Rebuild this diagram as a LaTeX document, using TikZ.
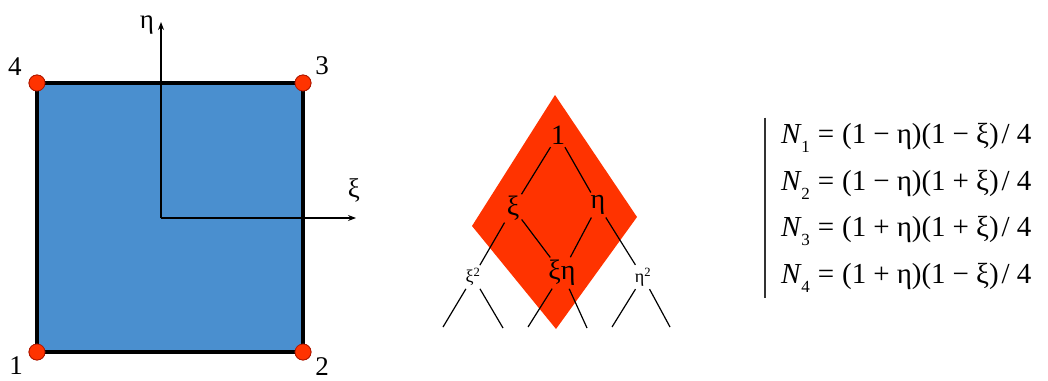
\documentclass[tikz,border=0pt]{standalone}
\usepackage{fontspec}
\setmainfont{Liberation Serif}
\usetikzlibrary{arrows.meta,positioning}
\definecolor{elemblue}{HTML}{4A8FCF}
\definecolor{nodered}{HTML}{FF3300}
\definecolor{nodeedge}{HTML}{B01800}
\definecolor{bargray}{HTML}{333333}
\newcommand{\shapeN}[1]{\textit{N}\kern-0.5pt\raisebox{-0.32em}{\fontsize{17}{17}\selectfont #1}}
\newcommand{\gap}[1]{\hspace{#1pt}}

\begin{document}
\begin{tikzpicture}[x=1pt, y=-1pt,
        corner/.style = {circle, fill=nodered, draw=nodeedge, line width=0.8pt,
                         inner sep=0pt, minimum size=16pt},
        num/.style    = {font=\fontsize{27}{27}\selectfont, inner sep=0pt},
        axis/.style   = {-{Stealth[length=8pt,width=6pt]}, line width=1.1pt},
        term/.style   = {font=\fontsize{28}{28}\selectfont, inner sep=1pt},
        small/.style  = {font=\fontsize{18}{18}\selectfont, inner sep=1pt},
        edge/.style   = {line width=1.2pt, shorten <=2pt, shorten >=2pt},
        eqn/.style    = {font=\fontsize{29}{29}\selectfont, anchor=base west, inner sep=0pt}
    ]
        \useasboundingbox (0,0) rectangle (1048,380);

        % ---- Element ----
        \node[corner] (c1) at (37,352) {};
        \node[corner] (c2) at (303,352) {};
        \node[corner] (c3) at (303,83) {};
        \node[corner] (c4) at (37,83) {};
        \fill[elemblue] (c1.center) -- (c2.center) -- (c3.center) -- (c4.center) -- cycle;
        \draw[line width=3.5pt, line join=round]
            (c1.center) -- (c2.center) -- (c3.center) -- (c4.center) -- cycle;
        \foreach \k in {1,...,4} {\node[corner] at (c\k) {};}
        \node[num] (n1) at (16,366) {1};
        \node[num] (n2) at (322,367) {2};
        \node[num] (n3) at (322,66) {3};
        \node[num] (n4) at (15,67) {4};

        \coordinate (o) at (161,218);
        \coordinate (etatip) at (161,22);
        \coordinate (xitip) at (356,218);
        \draw[axis] (o) -- (etatip);
        \draw[axis] (o) -- (xitip);
        \node[num] (etalab) at (147,25) {η};
        \node[num] (xilab) at (354,190) {ξ};

        % ---- Pascal triangle ----
        \fill[nodered] (555,95) -- (637,217) -- (556,329) -- (472,226) -- cycle;
        \node[term] (one) at (558,135) {1};
        \node[term] (xi) at (513,208) {ξ};
        \node[term] (eta) at (598,205) {η};
        \node[small] (xisq) at (473,277) {ξ\textsuperscript{2}};
        \node[term] (xieta) at (562,273) {ξη};
        \node[small] (etasq) at (643,277) {η\textsuperscript{2}};
        \draw[edge] (one) -- (xi);
        \draw[edge] (one) -- (eta);
        \draw[edge] (xi) -- (xisq);
        \draw[edge] (xi) -- (xieta);
        \draw[edge] (eta) -- (xieta);
        \draw[edge] (eta) -- (etasq);

        \coordinate (l1) at (443,327);
        \coordinate (l2) at (503,328);
        \coordinate (l3) at (528,327);
        \coordinate (l4) at (587,328);
        \coordinate (l5) at (612,327);
        \coordinate (l6) at (670,327);
        \draw[edge, shorten >=0pt] (xisq) -- (l1);
        \draw[edge, shorten >=0pt] (xisq) -- (l2);
        \draw[edge, shorten >=0pt] (xieta) -- (l3);
        \draw[edge, shorten >=0pt] (xieta) -- (l4);
        \draw[edge, shorten >=0pt] (etasq) -- (l5);
        \draw[edge, shorten >=0pt] (etasq) -- (l6);

        % ---- Shape functions ----
        \node[eqn] (eq1) at (781,143)
            {\shapeN{1}\gap{8}=\gap{8}(1\gap{7}−\gap{7}η)(1\gap{7}−\gap{7}ξ)\gap{3}/\gap{7}4};
        \node[eqn] (eq2) at (781,190)
            {\shapeN{2}\gap{8}=\gap{8}(1\gap{7}−\gap{7}η)(1\gap{7}+\gap{7}ξ)\gap{3}/\gap{7}4};
        \node[eqn] (eq3) at (781,236)
            {\shapeN{3}\gap{8}=\gap{8}(1\gap{7}+\gap{7}η)(1\gap{7}+\gap{7}ξ)\gap{3}/\gap{7}4};
        \node[eqn] (eq4) at (781,283)
            {\shapeN{4}\gap{8}=\gap{8}(1\gap{7}+\gap{7}η)(1\gap{7}−\gap{7}ξ)\gap{3}/\gap{7}4};
        \draw[bargray, line width=1.6pt]
            ([xshift=-16pt, yshift=5pt]eq1.north west) -- ([xshift=-16pt, yshift=-6pt]eq4.south west);
    \end{tikzpicture}
\end{document}
